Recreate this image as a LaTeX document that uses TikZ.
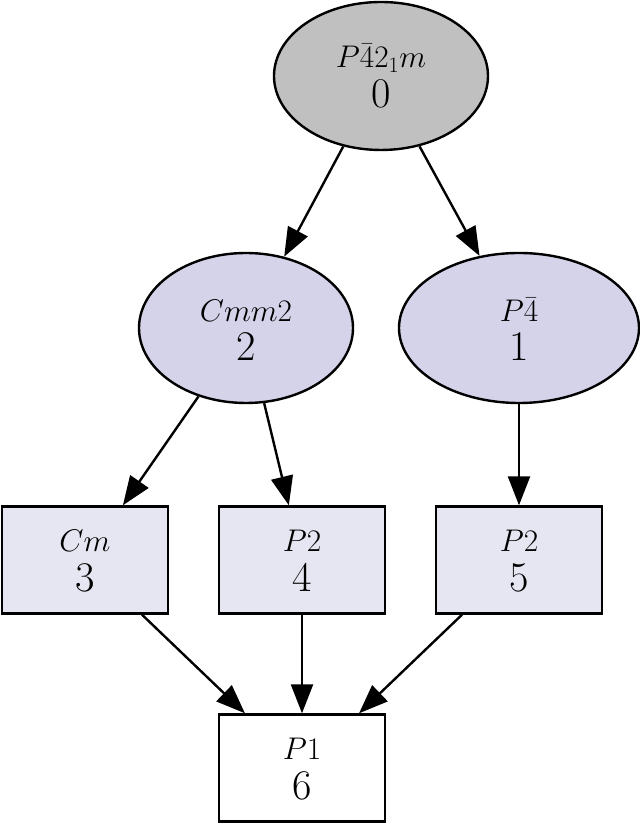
\RequirePackage{fix-cm}
\documentclass[tikz,border=0pt]{standalone}
\usetikzlibrary{shapes.geometric,arrows.meta,calc}
\definecolor{grayfill}{RGB}{192,192,192}
\definecolor{lavfill}{RGB}{213,211,234}
\definecolor{boxfill}{RGB}{230,230,243}
\tikzset{
  base/.style={draw=black,line width=2.4pt,inner sep=0pt},
  ell/.style={base,ellipse,minimum height=148pt},
  rect/.style={base,rectangle,minimum width=166pt,minimum height=107pt},
  toptext/.style={anchor=base,inner sep=0pt,scale=1.16,font=\fontsize{27}{30}\selectfont},
  numtext/.style={anchor=base,inner sep=0pt,scale=1.32,font=\fontsize{32}{36}\selectfont},
  arr/.style={draw=black,line width=2.4pt,-{Triangle[length=29pt,width=22pt]}}
}
\begin{document}
\begin{tikzpicture}[x=1pt,y=1pt]
\useasboundingbox (0,0) rectangle (640,825);
\node[ell,fill=grayfill,minimum width=214pt] (n0) at (381,749) {};
\node[ell,fill=lavfill,minimum width=214pt,minimum height=150pt] (n2) at (246,497) {};
\node[ell,fill=lavfill,minimum width=240pt,minimum height=150pt] (n1) at (519,497) {};
\node[rect,fill=boxfill] (n3) at (85,265) {};
\node[rect,fill=boxfill] (n4) at (302,265) {};
\node[rect,fill=boxfill] (n5) at (519,265) {};
\node[rect,fill=white] (n6) at (302,57) {};

\node[toptext] (t0) at ($(n0.center)+(0,8)$) {$P\bar{4}2_1m$};
\node[numtext] (d0) at ($(n0.center)+(0,-32)$) {0};
\node[toptext] (t2) at ($(n2.center)+(0,6)$) {$Cmm2$};
\node[numtext] (d2) at ($(n2.center)+(0,-33)$) {2};
\node[toptext] (t1) at ($(n1.center)+(0,6)$) {$P\bar{4}$};
\node[numtext] (d1) at ($(n1.center)+(0,-33)$) {1};
\node[toptext] (t3) at ($(n3.center)+(0,8)$) {$Cm$};
\node[numtext] (d3) at ($(n3.center)+(0,-32)$) {3};
\node[toptext] (t4) at ($(n4.center)+(0,8)$) {$P2$};
\node[numtext] (d4) at ($(n4.center)+(0,-32)$) {4};
\node[toptext] (t5) at ($(n5.center)+(0,8)$) {$P2$};
\node[numtext] (d5) at ($(n5.center)+(0,-32)$) {5};
\node[toptext] (t6) at ($(n6.center)+(0,8)$) {$P1$};
\node[numtext] (d6) at ($(n6.center)+(0,-32)$) {6};

\draw[arr] (n0) -- (n2);
\draw[arr] (n0) -- (n1);
\draw[arr] (n2) -- (n3);
\draw[arr] (n2) -- (n4);
\draw[arr] (n1) -- (n5);
\draw[arr] (n3) -- (n6);
\draw[arr] (n4) -- (n6);
\draw[arr] (n5) -- (n6);
\end{tikzpicture}
\end{document}
